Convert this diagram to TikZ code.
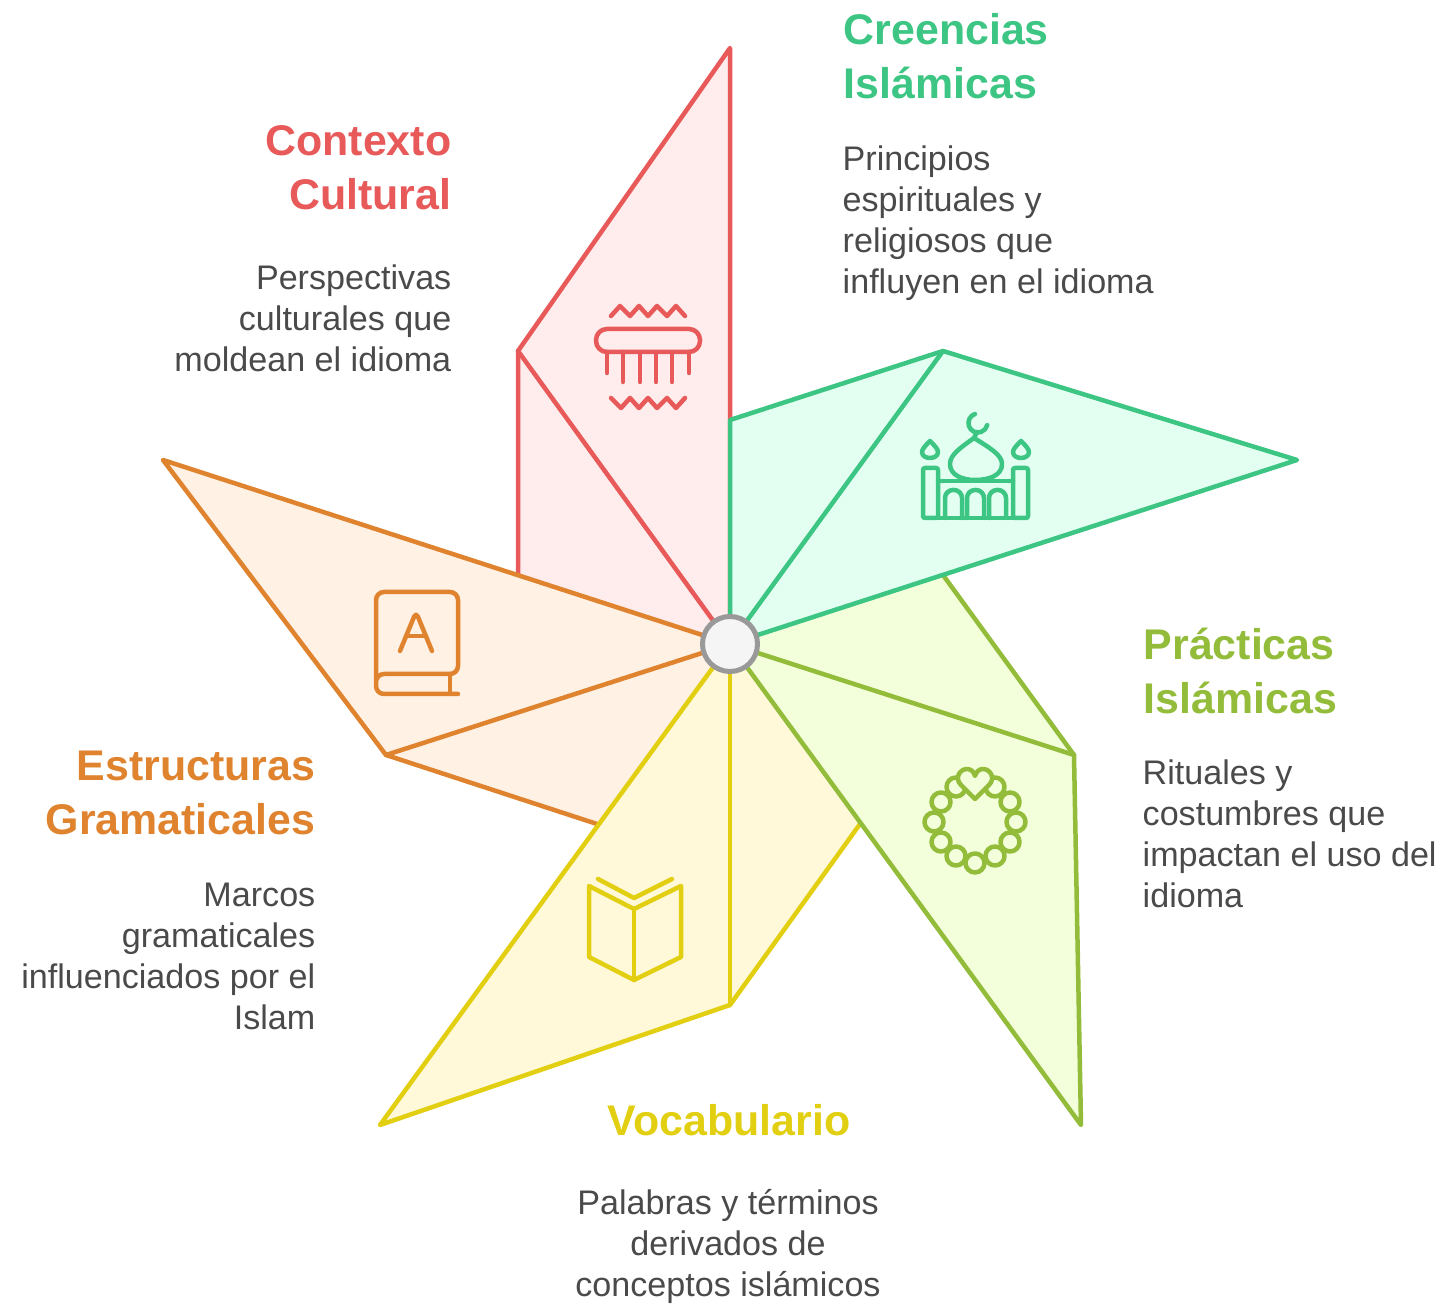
\documentclass[tikz,border=0pt]{standalone}
\usepackage{xcolor}
\usepackage{fontspec}
\setmainfont{Liberation Sans}

\definecolor{redline}{HTML}{E85A5A}
\definecolor{redfill}{HTML}{FFECEC}
\definecolor{greenline}{HTML}{3CC583}
\definecolor{greenfill}{HTML}{E3FFF2}
\definecolor{limeline}{HTML}{92BC39}
\definecolor{limefill}{HTML}{F2FFDA}
\definecolor{yellowline}{HTML}{E2CF12}
\definecolor{yellowfill}{HTML}{FFF9DA}
\definecolor{orangeline}{HTML}{E0832F}
\definecolor{orangefill}{HTML}{FFF1E4}
\definecolor{bodygray}{HTML}{4A4A4A}

\tikzset{
  petal/.style={line width=0.045cm, line join=round, line cap=round},
  icon/.style={line width=0.045cm, line join=round, line cap=round},
  headtext/.style={inner sep=0pt, font=\fontsize{12.2}{15.4}\selectfont\bfseries},
  bodytext/.style={inner sep=0pt, text=bodygray, font=\fontsize{9.7}{11.66}\selectfont},
}

\begin{document}
\begin{tikzpicture}[x=0.01cm, y=-0.01cm]
\useasboundingbox (0,0) rectangle (1445,1304);

\coordinate (O) at (730,644);

\coordinate (R1) at (730,48);
\coordinate (R2) at (518,351);
\coordinate (R3) at (518,574);
\coordinate (G0) at (730,420);
\coordinate (G1) at (943,351);
\coordinate (G2) at (1297,460);
\coordinate (L0) at (943,575);
\coordinate (L1) at (1074,755);
\coordinate (L2) at (1081,1125);
\coordinate (Y0) at (860,824);
\coordinate (Y1) at (730,1005);
\coordinate (Y2) at (380,1125);
\coordinate (E0) at (597,824);
\coordinate (E1) at (386,755);
\coordinate (E2) at (163,460);

\fill[redfill] (O) -- (R1) -- (R2) -- (R3) -- cycle;
\draw[petal, redline] (O) -- (R1) -- (R2) -- (R3);
\draw[petal, redline] (R2) -- (O);

\fill[orangefill] (O) -- (E2) -- (E1) -- (E0) -- cycle;
\draw[petal, orangeline] (O) -- (E2) -- (E1) -- (E0);
\draw[petal, orangeline] (E1) -- (O);

\fill[yellowfill] (O) -- (Y2) -- (Y1) -- (Y0) -- cycle;
\draw[petal, yellowline] (O) -- (Y2) -- (Y1) -- (Y0);
\draw[petal, yellowline] (Y1) -- (O);

\fill[limefill] (O) -- (L2) -- (L1) -- (L0) -- cycle;
\draw[petal, limeline] (O) -- (L2) -- (L1) -- (L0);
\draw[petal, limeline] (L1) -- (O);

\fill[greenfill] (O) -- (G2) -- (G1) -- (G0) -- cycle;
\draw[petal, greenline] (O) -- (G2) -- (G1) -- (G0) -- (O);
\draw[petal, greenline] (G1) -- (O);

\node[circle, draw=black!40, fill=black!4, line width=0.05cm, minimum size=0.55cm, inner sep=0pt] (hub) at (730,644) {};

% red icon
\draw[icon, redline] (611,316) -- (620,306) -- (630,316) -- (639,306) -- (648,316) -- (657,306) -- (667,316) -- (676,306) -- (685,316);
\draw[icon, redline] (611,398) -- (621,408) -- (630,398) -- (639,408) -- (648,398) -- (657,408) -- (667,398) -- (676,408) -- (685,398);
\draw[icon, redline, rounded corners=0.11cm] (596,329) rectangle (700,352);
\foreach \x/\y in {607/373, 623/382, 640/382, 656/382, 672/382, 689/373}
  \draw[icon, redline] (\x,352) -- (\x,\y);

% green icon
\draw[icon, greenline] (975,414) arc (252:13:9.5);
\draw[icon, greenline] (977,432) -- (974,438);
\draw[icon, greenline] (974,438) .. controls (960,448) and (950,455) .. (950,464) .. controls (950,475) and (962,480) .. (975,480) .. controls (990,480) and (1002,475) .. (1002,464) .. controls (1002,455) and (990,448) .. (974,438);
\foreach \x in {930, 1021}
  \draw[icon, greenline] (\x,441) .. controls (\x-4,445) and (\x-8,449) .. (\x-8,452) .. controls (\x-8,456) and (\x-4,458) .. (\x,458) .. controls (\x+4,458) and (\x+8,456) .. (\x+8,452) .. controls (\x+8,449) and (\x+4,445) .. (\x,441);
\draw[icon, greenline, rounded corners=0.02cm] (923,468) rectangle (938,518);
\draw[icon, greenline, rounded corners=0.02cm] (1013,468) rectangle (1028,518);
\draw[icon, greenline] (938,518) -- (1013,518);
\draw[icon, greenline] (938,481) -- (1013,481);
\foreach \x in {945, 967, 989}
  \draw[icon, greenline, rounded corners=0.08cm] (\x,518) -- (\x,490) -- (\x+17,490) -- (\x+17,518);

% lime icon
\foreach \x/\y in {975/863, 995/856, 1010/842, 1016/822, 1010/802, 995/787, 956/787, 941/802, 934/822, 941/842, 956/856}
  \draw[icon, limeline] (\x,\y) circle (9.5);
\draw[icon, limeline, fill=limefill] (975,799) -- (961,785) .. controls (954,778) and (960,769) .. (967,769) .. controls (971,769) and (974,772) .. (975,776) .. controls (976,772) and (979,769) .. (983,769) .. controls (990,769) and (996,778) .. (989,785) -- cycle;

% yellow icon
\draw[icon, yellowline] (598,879) -- (634,898) -- (672,879);
\draw[icon, yellowline] (589,886) -- (634,909) -- (681,886) -- (681,957) -- (634,980) -- (589,957) -- cycle;
\draw[icon, yellowline] (634,909) -- (634,980);

% orange icon
\draw[icon, orangeline, rounded corners=0.08cm] (376,686) -- (376,592) -- (458,592) -- (458,674) -- (376,674) -- (376,694) -- (458,694);
\draw[icon, orangeline] (450,674) -- (450,694);
\draw[icon, orangeline, rounded corners=0.05cm] (400,651) -- (416,612) -- (432,651);
\draw[icon, orangeline] (406,636) -- (426,636);

\node[headtext, text=greenline, anchor=north west, align=left] (creenciashead) at (843,13) {Creencias\\Islámicas};
\node[bodytext, anchor=north west, align=left] (creenciasbody) at (842,145) {Principios\\espirituales y\\religiosos que\\influyen en el idioma};

\node[headtext, text=redline, anchor=north east, align=right] (contextohead) at (452,125) {Contexto\\Cultural};
\node[bodytext, anchor=north east, align=right] (contextobody) at (452,264) {Perspectivas\\culturales que\\moldean el idioma};

\node[headtext, text=limeline, anchor=north west, align=left] (practicashead) at (1143,627) {Prácticas\\Islámicas};
\node[bodytext, anchor=north west, align=left] (practicasbody) at (1142,759) {Rituales y\\costumbres que\\impactan el uso del\\idioma};

\node[headtext, text=orangeline, anchor=north east, align=right] (estructurashead) at (316,750) {Estructuras\\Gramaticales};
\node[bodytext, anchor=north east, align=right] (estructurasbody) at (316,882) {Marcos\\gramaticales\\influenciados por el\\Islam};

\node[headtext, text=yellowline, anchor=north, align=center] (vocabulariohead) at (729,1104) {Vocabulario};
\node[bodytext, anchor=north, align=center] (vocabulariobody) at (728,1189) {Palabras y términos\\derivados de\\conceptos islámicos};

\end{tikzpicture}
\end{document}
